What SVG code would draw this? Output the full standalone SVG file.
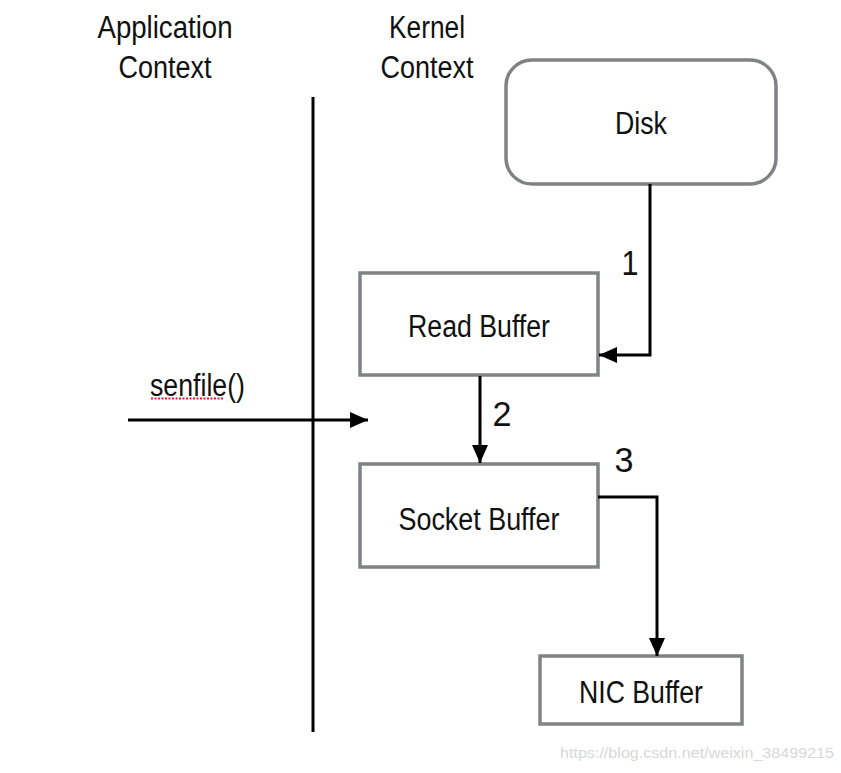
<svg xmlns="http://www.w3.org/2000/svg" width="841" height="773" viewBox="0 0 841 773">
<style>
.t{font-family:"Liberation Sans",Arial,sans-serif;font-size:31px;fill:#111;}
.n{font-family:"Liberation Sans",Arial,sans-serif;font-size:35px;fill:#111;}
.box{fill:#fff;stroke:#808285;stroke-width:3.5;}
.c{fill:none;stroke:#000;stroke-width:3;}
</style>
<defs>
<marker id="ah2" viewBox="0 0 10 10" refX="10" refY="5" markerWidth="18" markerHeight="16" orient="auto" markerUnits="userSpaceOnUse" preserveAspectRatio="none">
<path d="M0,0 L10,5 L0,10 Z" fill="#000"/>
</marker>
</defs>
<rect width="841" height="773" fill="#fff"/>
<g id="labels">
<text class="t" x="165" y="38" text-anchor="middle" textLength="135" lengthAdjust="spacingAndGlyphs">Application</text>
<text class="t" x="165" y="78" text-anchor="middle" textLength="93" lengthAdjust="spacingAndGlyphs">Context</text>
<text class="t" x="427" y="38" text-anchor="middle" textLength="76" lengthAdjust="spacingAndGlyphs">Kernel</text>
<text class="t" x="427" y="78" text-anchor="middle" textLength="93" lengthAdjust="spacingAndGlyphs">Context</text>
</g>
<g id="divider">
<line x1="313" y1="97" x2="313" y2="732" stroke="#000" stroke-width="3"/>
</g>
<g id="disk">
<rect class="box" x="506" y="60" width="270" height="124" rx="26"/>
<text class="t" x="641" y="134" text-anchor="middle" textLength="52" lengthAdjust="spacingAndGlyphs">Disk</text>
</g>
<g id="read-buffer">
<rect class="box" x="360" y="273" width="238" height="102"/>
<text class="t" x="479" y="337" text-anchor="middle" textLength="142" lengthAdjust="spacingAndGlyphs">Read Buffer</text>
</g>
<g id="socket-buffer">
<rect class="box" x="360" y="464" width="238" height="103"/>
<text class="t" x="479" y="530" text-anchor="middle" textLength="161" lengthAdjust="spacingAndGlyphs">Socket Buffer</text>
</g>
<g id="nic-buffer">
<rect class="box" x="540" y="656" width="202" height="68"/>
<text class="t" x="641" y="703" text-anchor="middle" textLength="124" lengthAdjust="spacingAndGlyphs">NIC Buffer</text>
</g>
<g id="connectors">
<polyline class="c" points="650,184 650,355 599,355" marker-end="url(#ah2)"/>
<line class="c" x1="480" y1="376" x2="480" y2="463" marker-end="url(#ah2)"/>
<polyline class="c" points="598,497 657,497 657,656" marker-end="url(#ah2)"/>
<line class="c" x1="128" y1="420" x2="368" y2="420" marker-end="url(#ah2)"/>
</g>
<g id="connector-labels">
<text class="n" x="630" y="275" text-anchor="middle" textLength="17" lengthAdjust="spacingAndGlyphs">1</text>
<text class="n" x="502" y="426" text-anchor="middle" textLength="19" lengthAdjust="spacingAndGlyphs">2</text>
<text class="n" x="624" y="472" text-anchor="middle" textLength="19" lengthAdjust="spacingAndGlyphs">3</text>
<text class="t" x="150" y="396" font-size="29" textLength="95" lengthAdjust="spacingAndGlyphs">senfile()</text>
<line x1="151" y1="398.5" x2="223" y2="398.5" stroke="#e8192c" stroke-width="2" stroke-dasharray="2,1.5"/>
</g>
<text x="560" y="758" font-family="Liberation Sans,Arial,sans-serif" font-size="14" fill="#d8d8d8" textLength="274" lengthAdjust="spacingAndGlyphs">https://blog.csdn.net/weixin_38499215</text>
</svg>
